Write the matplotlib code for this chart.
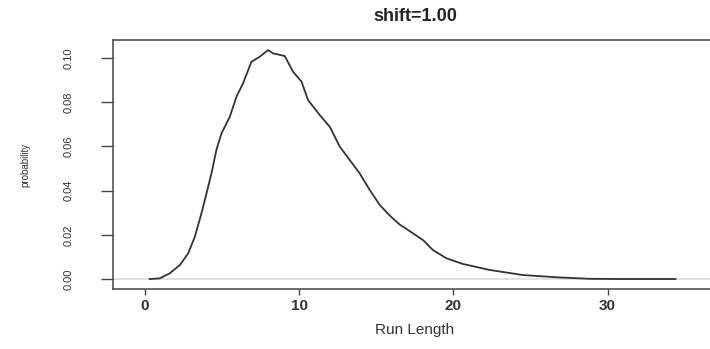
import matplotlib
matplotlib.use("Agg")
import matplotlib.pyplot as plt

plt.rcParams['font.family'] = ['Liberation Sans', 'DejaVu Sans']

# run length distribution
run_length = [0.32, 0.97, 1.62, 2.27, 2.81, 3.24, 3.67, 4.0, 4.32, 4.64, 4.97, 5.51,
              5.94, 6.37, 6.91, 7.45, 7.99, 8.32, 8.53, 9.07, 9.61, 10.16, 10.58,
              11.34, 11.99, 12.64, 13.29, 13.93, 14.58, 15.23, 15.88, 16.53, 16.74,
              18.04, 18.68, 19.55, 20.63, 22.36, 24.52, 26.68, 28.84, 31.0, 34.4]
probability = [0.0, 0.0003, 0.0026, 0.0063, 0.0116, 0.0191, 0.0297, 0.0388, 0.0478,
               0.0584, 0.0659, 0.0734, 0.0825, 0.0886, 0.0983, 0.1006, 0.1036, 0.1021,
               0.1018, 0.1009, 0.0938, 0.0893, 0.081, 0.0742, 0.0689, 0.0599, 0.0538,
               0.0478, 0.0403, 0.0335, 0.0287, 0.0246, 0.0237, 0.0176, 0.0131, 0.0094,
               0.0068, 0.0041, 0.0018, 0.0008, 0.0001, 0.0, 0.0]
xticks = [0, 10, 20, 30]
yticks = [0.00, 0.02, 0.04, 0.06, 0.08, 0.10]

fig = plt.figure(figsize=(7.1, 3.49), dpi=100)
ax = fig.add_axes([0.159, 0.172, 0.851, 0.713])

ax.axhline(0, color="#dddddd", lw=1.2, zorder=1)
ax.plot(run_length, probability, color="#333333", lw=1.3, zorder=2)

ax.set_xlim(-2.07, 37.1)
ax.set_ylim(-0.0045, 0.1081)
for s in ax.spines.values():
    s.set_color("#444444")
    s.set_linewidth(1.1)

ax.set_xticks(xticks)
ax.set_xticklabels([str(t) for t in xticks], fontsize=11, fontweight="bold", color="#333333")
ax.set_yticks(yticks)
ax.set_yticklabels(["%.2f" % t for t in yticks], rotation=90, va="center",
                   fontsize=8, color="#333333")
ax.tick_params(axis="x", length=4.5, width=1, color="#444444", pad=3)
ax.tick_params(axis="y", length=9, width=1, color="#444444", pad=19)

ax.set_title("shift=1.00", fontsize=13, fontweight="bold", pad=14, color="#222222")
ax.set_xlabel("Run Length", fontsize=11, color="#333333", labelpad=7)
ax.set_ylabel("probability", fontsize=7, color="#333333", labelpad=24)

fig.savefig("out.png", dpi=100)
